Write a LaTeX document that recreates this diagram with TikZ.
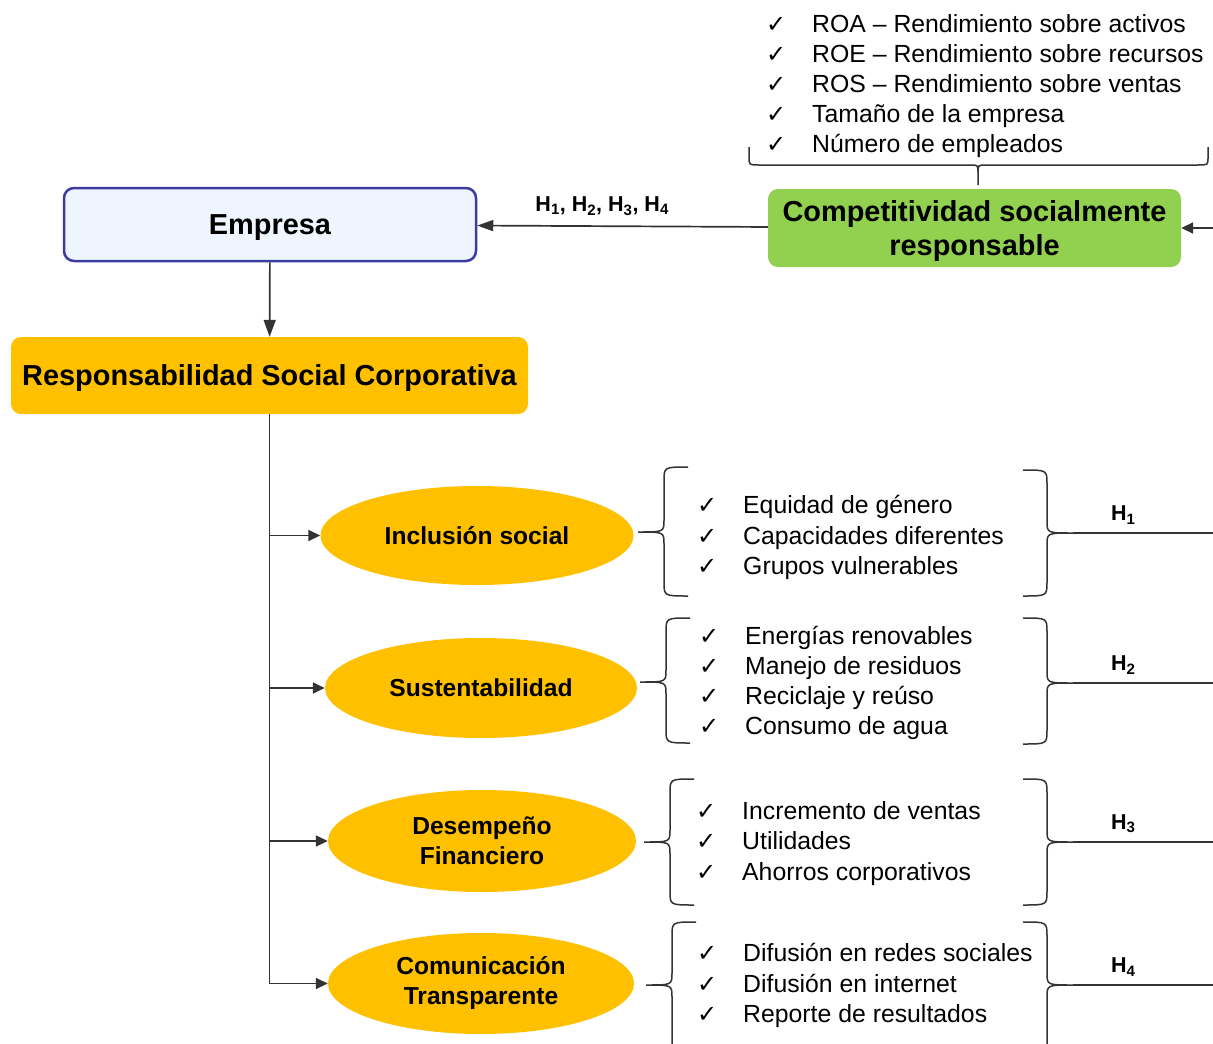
\documentclass[tikz,border=0pt]{standalone}
\usepackage{fontspec}
\setmainfont{Liberation Sans}
\newfontfamily\chkfont{DejaVu Sans}
\usetikzlibrary{positioning, calc}
\usetikzlibrary{arrows.meta, shapes.geometric}

\definecolor{empfill}{RGB}{238,245,255}
\definecolor{empline}{RGB}{60,60,160}
\definecolor{rscorange}{RGB}{255,192,0}
\definecolor{csrgreen}{RGB}{146,208,80}

\newcommand{\chk}{\makebox[46pt][l]{\chkfont\fontsize{24}{30}\selectfont ✓}}
\newcommand{\listfont}{\fontsize{24.8}{30.2}\selectfont}
% vertical brace: x, top, bottom, middle, side (1 tip right, -1 tip left), tip name
\newcommand{\vbrace}[6]{%
  \draw[brc] ({#1-24*(#5)},#2) .. controls (#1,#2) .. (#1,#2+14) -- (#1,#4-12)
    .. controls (#1,#4) .. ({#1+26*(#5)},#4) coordinate (#6)
    .. controls (#1,#4) .. (#1,#4+12) -- (#1,#3-14) .. controls (#1,#3) .. ({#1-24*(#5)},#3);}

\begin{document}
\begin{tikzpicture}[x=1pt,y=-1pt,
  ln/.style={line width=1.7pt, black!80},
  arr/.style={ln, -{Triangle[length=12pt,width=11pt]}},
  brc/.style={line width=1.5pt, black!80},
  box/.style={rounded corners=10pt, inner sep=0pt, align=center, text depth=0pt, font=\bfseries\fontsize{28.9}{34}\selectfont},
  oval/.style={ellipse, fill=rscorange, inner sep=0pt, align=center, font=\bfseries\fontsize{24.6}{30}\selectfont},
  lst/.style={anchor=west, inner sep=0pt, align=left, font=\listfont},
  hlab/.style={inner sep=0pt, text=black, font=\bfseries\fontsize{21.5}{24}\selectfont}]

\useasboundingbox (0,0) rectangle (1213,1044);
\clip (0,0) rectangle (1213,1044);

\draw 	(270,224.5) node[box, draw=empline, line width=2.5pt, fill=empfill, minimum width=412pt, minimum height=73pt](emp){Empresa}
		(269.5,375.5) node[box, fill=rscorange, minimum width=517pt, minimum height=77pt](rsc){Responsabilidad Social Corporativa}
		(974.5,228) node[box, fill=csrgreen, minimum width=413pt, minimum height=78pt](csr){Competitividad socialmente\\responsable};

\draw 	(477,535.5) node[oval, minimum width=313pt, minimum height=99pt](inc){Inclusión social}
		(481,688) node[oval, minimum width=312pt, minimum height=100pt](sus){Sustentabilidad}
		(482,841) node[oval, minimum width=308pt, minimum height=102pt](fin){Desempeño\\Financiero}
		(481,983.5) node[oval, minimum width=306pt, minimum height=101pt](com){Comunicación\\Transparente};

\draw 	(766,86) node[lst](kpi){\chk ROA – Rendimiento sobre activos\\\chk ROE – Rendimiento sobre recursos\\\chk ROS – Rendimiento sobre ventas\\\chk Tamaño de la empresa\\\chk Número de empleados}
		(697,537.5) node[lst](lst1){\chk Equidad de género\\\chk Capacidades diferentes\\\chk Grupos vulnerables}
		(699,683) node[lst](lst2){\chk Energías renovables\\\chk Manejo de residuos\\\chk Reciclaje y reúso\\\chk Consumo de agua}
		(696,843.5) node[lst](lst3){\chk Incremento de ventas\\\chk Utilidades\\\chk Ahorros corporativos}
		(697,985.5) node[lst](lst4){\chk Difusión en redes sociales\\\chk Difusión en internet\\\chk Reporte de resultados};

\vbrace{664}{467}{596}{532}{-1}{b1l}
\vbrace{1047}{470}{596}{533}{1}{b1r}
\vbrace{666}{618}{743}{682}{-1}{b2l}
\vbrace{1047}{618}{744}{683}{1}{b2r}
\vbrace{670}{779}{905}{842}{-1}{b3l}
\vbrace{1047}{779}{905}{842}{1}{b3r}
\vbrace{672}{922}{1060}{985}{-1}{b4l}
\vbrace{1047}{922}{1060}{985}{1}{b4r}
\draw[brc] (749,147) -- (749,157) .. controls (749,165) .. (759,165) -- (970,165) .. controls (978,165) .. (978,173) -- (978,185)
		(978,173) .. controls (978,165) .. (986,165) -- (1198,165) .. controls (1208,165) .. (1208,157) -- (1208,147);

\coordinate (inR) at (1213,228);
\coordinate (h1) at (1213,533);
\coordinate (h2) at (1213,683);
\coordinate (h3) at (1213,842);
\coordinate (h4) at (1213,985);

\path[arr]
    (emp) edge[-{Triangle[length=17pt,width=12pt]}] node {} (rsc)
    (csr) edge[-{Triangle[length=16pt,width=11pt]}] node[hlab, pos=0.57, above=10pt] {H\textsubscript{1}, H\textsubscript{2}, H\textsubscript{3}, H\textsubscript{4}} (emp)
    (inR) edge node {} (csr);
\draw[ln] (rsc.south) -- (rsc.south |- com.west);
\foreach \e in {inc,sus,fin,com}
    \draw[arr] (rsc.south |- \e.west) -- (\e.west);
\foreach \i in {1,...,4}
    \draw[ln] (b\i r) -- node[hlab, pos=0.36, above=8pt] {H\textsubscript{\i}} (h\i);
\end{tikzpicture}
\end{document}
